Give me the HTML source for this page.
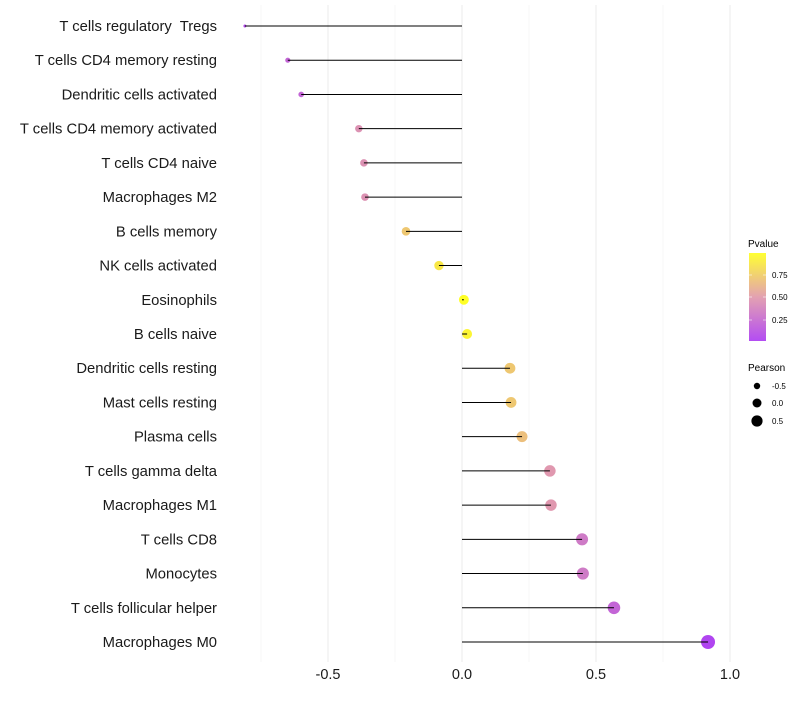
<!DOCTYPE html>
<html><head><meta charset="utf-8"><style>
body{margin:0;background:#fff;}
svg text{font-family:"Liberation Sans",sans-serif;white-space:pre;}
</style></head><body>
<svg id="chart" width="800" height="700" xmlns="http://www.w3.org/2000/svg">
<defs><linearGradient id="pg" x1="0" y1="1" x2="0" y2="0">
<stop offset="0" stop-color="#A020F0"/><stop offset="0.5" stop-color="#DC8A9E"/><stop offset="1" stop-color="#FFFF00"/>
</linearGradient></defs>
<g id="grid"></g>
<g id="marks"></g>
<g id="ylabels"></g>
<g id="xlabels"></g>
<g>
<text x="748" y="247" font-size="10" fill="#000">Pvalue</text>
<rect x="749" y="253" width="17" height="88" fill="url(#pg)" opacity="0.8"/>
<g stroke="#fff" stroke-width="0.8" opacity="0.7"><line x1="749" y1="275" x2="752" y2="275"/><line x1="763" y1="275" x2="766" y2="275"/><line x1="749" y1="297" x2="752" y2="297"/><line x1="763" y1="297" x2="766" y2="297"/><line x1="749" y1="320" x2="752" y2="320"/><line x1="763" y1="320" x2="766" y2="320"/></g>
<text x="772" y="278" font-size="8">0.75</text>
<text x="772" y="300" font-size="8">0.50</text>
<text x="772" y="323" font-size="8">0.25</text>
</g>
<g>
<text x="748" y="371" font-size="10">Pearson</text>
<circle cx="757" cy="386" r="3.2"/><text x="772" y="389" font-size="8">-0.5</text>
<circle cx="757" cy="403" r="4.5"/><text x="772" y="406" font-size="8">0.0</text>
<circle cx="757" cy="421" r="5.6"/><text x="772" y="424" font-size="8">0.5</text>
</g>
</svg>
<script>
const cells=["T cells regulatory  Tregs","T cells CD4 memory resting","Dendritic cells activated","T cells CD4 memory activated","T cells CD4 naive","Macrophages M2","B cells memory","NK cells activated","Eosinophils","B cells naive","Dendritic cells resting","Mast cells resting","Plasma cells","T cells gamma delta","Macrophages M1","T cells CD8","Monocytes","T cells follicular helper","Macrophages M0"];
const pearson=[-0.81,-0.65,-0.60,-0.385,-0.366,-0.362,-0.209,-0.086,0.007,0.019,0.179,0.183,0.224,0.328,0.332,0.448,0.451,0.567,0.918];
const pvalue=[0.05,0.2,0.2,0.45,0.45,0.45,0.72,0.88,1.0,0.95,0.72,0.72,0.68,0.48,0.48,0.32,0.32,0.2,0.02];
const xTicks=[-0.5,0,0.5,1];
const xTickLabels=["-0.5","0.0","0.5","1.0"];
const xMinor=[-0.75,-0.25,0.25,0.75];
const NS="http://www.w3.org/2000/svg";
const xs=v=>462+v*268;
const ys=i=>26+i*(616/18);
function mk(t,a,p){const e=document.createElementNS(NS,t);for(const k in a)e.setAttribute(k,a[k]);p.appendChild(e);return e;}
function hex(c){return [parseInt(c.slice(1,3),16),parseInt(c.slice(3,5),16),parseInt(c.slice(5,7),16)];}
const c0=hex("#A020F0"),c1=hex("#DC8A9E"),c2=hex("#FFFF00");
function col(p){let a,b,t;if(p<0.5){a=c0;b=c1;t=p/0.5;}else{a=c1;b=c2;t=(p-0.5)/0.5;}return "rgb("+a.map((v,i)=>Math.round(v+(b[i]-v)*t)).join(",")+")";}
const pmin=Math.min(...pearson),pmax=Math.max(...pearson);
const rs=v=>Math.sqrt(2.25+(v-pmin)/(pmax-pmin)*(49-2.25));
const g=document.getElementById('grid');
xMinor.forEach(v=>{const l=mk('line',{x1:xs(v),x2:xs(v),y1:5,y2:662,stroke:'#f2f2f2','stroke-width':0.6},g);

});
xTicks.forEach(v=>{const l=mk('line',{x1:xs(v),x2:xs(v),y1:5,y2:662,stroke:'#ebebeb','stroke-width':1},g);

});
const m=document.getElementById('marks');
cells.forEach((c,i)=>{
const p=mk('circle',{cx:xs(pearson[i]),cy:ys(i),r:rs(pearson[i]),fill:col(pvalue[i]),'fill-opacity':0.85},m);


const s=mk('line',{x1:xs(0),x2:xs(pearson[i]),y1:ys(i),y2:ys(i),stroke:'#000','stroke-width':1},m);


const t=mk('text',{x:217,y:ys(i)+5,'text-anchor':'end','font-size':14.8,fill:'#1a1a1a'},document.getElementById('ylabels'));
t.textContent=c;


});
xTicks.forEach((v,i)=>{const t=mk('text',{x:xs(v),y:679,'text-anchor':'middle','font-size':14.5,fill:'#1a1a1a'},document.getElementById('xlabels'));
t.textContent=xTickLabels[i];

});
</script>
</body></html>
